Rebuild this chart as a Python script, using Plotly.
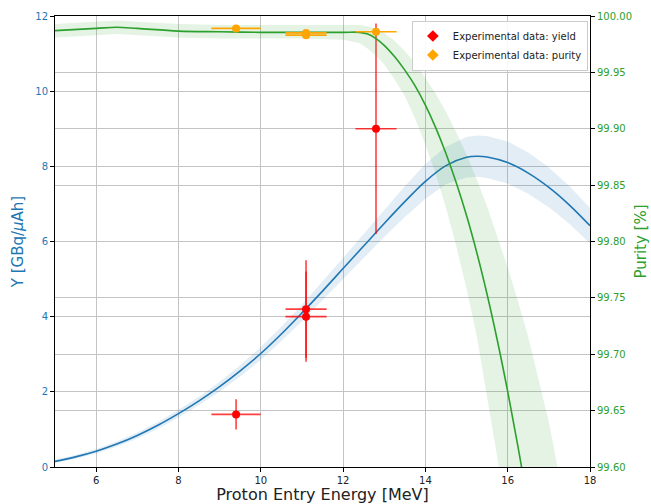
import plotly.graph_objects as go

# ---------------- data ----------------
# Yield model curve (left axis)
yield_x = [5, 5.5, 6, 6.5, 7, 7.5, 8, 8.5, 9, 9.5, 10, 10.5, 11, 11.5, 12, 12.5,
           13, 13.5, 14, 14.5, 15, 15.25, 15.5, 16, 16.5, 17, 17.5, 18]
yield_y = [0.15, 0.27, 0.42, 0.61, 0.84, 1.11, 1.42, 1.76, 2.14, 2.56, 3.02, 3.54,
           4.10, 4.68, 5.28, 5.88, 6.48, 7.06, 7.60, 8.02, 8.24, 8.27, 8.25, 8.10,
           7.82, 7.44, 6.97, 6.42]
yield_unc = [0.04, 0.05, 0.06, 0.07, 0.08, 0.09, 0.1, 0.11, 0.13, 0.15, 0.17, 0.19,
             0.22, 0.25, 0.28, 0.32, 0.36, 0.41, 0.46, 0.5, 0.54, 0.55, 0.56, 0.56,
             0.55, 0.53, 0.5, 0.47]

# Purity model curve (right axis)
pur_x = [5, 6, 6.5, 7, 8, 9, 10, 11, 12, 12.4, 12.6, 12.8, 13.0, 13.25, 13.5, 13.75,
         14.0, 14.25, 14.5, 14.75, 15.0, 15.25, 15.5, 15.75, 16.0, 16.25, 16.5, 17.0,
         17.5, 18.0]
pur_y = [99.987, 99.989, 99.990, 99.989, 99.9866, 99.986, 99.9855, 99.9855, 99.9855,
         99.9855, 99.984, 99.980, 99.974, 99.964, 99.952, 99.938, 99.921, 99.901,
         99.878, 99.852, 99.823, 99.790, 99.753, 99.712, 99.667, 99.618, 99.565,
         99.45, 99.32, 99.18]
pur_lo = [99.981, 99.983, 99.984, 99.983, 99.981, 99.980, 99.980, 99.980, 99.979,
          99.976, 99.971, 99.965, 99.957, 99.944, 99.929, 99.909, 99.886, 99.860,
          99.830, 99.796, 99.758, 99.716, 99.664, 99.608, 99.549, 99.487, 99.42,
          99.28, 99.12, 98.95]
pur_hi = [99.993, 99.995, 99.996, 99.995, 99.993, 99.992, 99.992, 99.992, 99.992,
          99.992, 99.991, 99.989, 99.985, 99.978, 99.969, 99.958, 99.945, 99.931,
          99.915, 99.897, 99.877, 99.855, 99.831, 99.805, 99.777, 99.747, 99.715,
          99.64, 99.55, 99.45]

# Experimental data
exp_yield_x = [9.4, 11.1, 11.1, 12.8]
exp_yield_xerr = [0.6, 0.5, 0.5, 0.5]
exp_yield_y = [1.4, 4.2, 4.0, 9.0]
exp_yield_yerr = [0.4, 1.3, 1.2, 2.8]

exp_pur_x = [9.4, 11.1, 11.1, 12.8]
exp_pur_xerr = [0.6, 0.5, 0.5, 0.5]
exp_pur_y = [99.989, 99.985, 99.983, 99.986]

x_ticks = [6, 8, 10, 12, 14, 16, 18]
y_ticks = [0, 2, 4, 6, 8, 10, 12]
y2_ticks = [99.60, 99.65, 99.70, 99.75, 99.80, 99.85, 99.90, 99.95, 100.00]

BLUE = "#1f77b4"
GREEN = "#2ca02c"
FONT = "DejaVu Sans"
GRID = "#c4c4c4"

fig = go.Figure()

# yield band + line
yu = [a + b for a, b in zip(yield_y, yield_unc)]
yl = [a - b for a, b in zip(yield_y, yield_unc)]
fig.add_trace(go.Scatter(x=yield_x + yield_x[::-1], y=yu + yl[::-1], fill="toself",
                         fillcolor="rgba(31,119,180,0.13)", line=dict(width=0),
                         hoverinfo="skip", showlegend=False, yaxis="y"))
fig.add_trace(go.Scatter(x=yield_x, y=yield_y, mode="lines", line=dict(color=BLUE, width=1.6),
                         line_shape="spline", showlegend=False, yaxis="y"))

# yield experimental
fig.add_trace(go.Scatter(x=exp_yield_x, y=exp_yield_y, mode="markers",
                         marker=dict(color="red", size=8),
                         error_x=dict(type="data", array=exp_yield_xerr, color="rgba(255,0,0,0.75)",
                                      thickness=1.6, width=0),
                         error_y=dict(type="data", array=exp_yield_yerr, color="rgba(255,0,0,0.75)",
                                      thickness=1.6, width=0),
                         showlegend=False, yaxis="y"))

# purity band + line
fig.add_trace(go.Scatter(x=pur_x + pur_x[::-1], y=pur_hi + pur_lo[::-1], fill="toself",
                         fillcolor="rgba(44,160,44,0.13)", line=dict(width=0),
                         hoverinfo="skip", showlegend=False, yaxis="y2"))
fig.add_trace(go.Scatter(x=pur_x, y=pur_y, mode="lines", line=dict(color=GREEN, width=1.6),
                         line_shape="spline", showlegend=False, yaxis="y2"))

# purity experimental
fig.add_trace(go.Scatter(x=exp_pur_x, y=exp_pur_y, mode="markers",
                         marker=dict(color="orange", size=8),
                         error_x=dict(type="data", array=exp_pur_xerr, color="orange",
                                      thickness=1.6, width=0),
                         showlegend=False, yaxis="y2"))

# legend entries
fig.add_trace(go.Scatter(x=[None], y=[None], mode="markers", name="Experimental data: yield",
                         marker=dict(color="red", size=9, symbol="diamond")))
fig.add_trace(go.Scatter(x=[None], y=[None], mode="markers", name="Experimental data: purity",
                         marker=dict(color="orange", size=9, symbol="diamond")))

fig.update_layout(
    width=651, height=504,
    margin=dict(l=55, r=61, t=16, b=37),
    paper_bgcolor="white", plot_bgcolor="white",
    font=dict(family=FONT, size=10, color="#222"),
    showlegend=True,
    legend=dict(x=0.996, y=0.99, xanchor="right", yanchor="top",
                bgcolor="rgba(255,255,255,0.9)", bordercolor="#cccccc", borderwidth=1,
                font=dict(family=FONT, size=10, color="#222"),
                itemwidth=30, tracegroupgap=0),
    xaxis=dict(range=[5, 18], tickvals=x_ticks, showgrid=True, gridcolor=GRID, gridwidth=1,
               showline=True, linecolor="black", linewidth=1, mirror=True,
               ticks="outside", ticklen=4, tickcolor="black",
               tickfont=dict(family=FONT, size=10, color="#222"),
               title=dict(text="Proton Entry Energy [MeV]", font=dict(family=FONT, size=16, color="#222"),
                          standoff=4),
               zeroline=False, automargin=False),
    yaxis=dict(range=[0, 12], tickvals=y_ticks, showgrid=True, gridcolor=GRID, gridwidth=1,
               showline=True, linecolor="black", linewidth=1,
               ticks="outside", ticklen=4, tickcolor="black",
               tickfont=dict(family=FONT, size=10, color=BLUE),
               title=dict(text="Y [GBq/<i>μ</i>Ah]", font=dict(family=FONT, size=15, color=BLUE),
                          standoff=8),
               zeroline=False, automargin=False),
    yaxis2=dict(range=[99.60, 100.00], tickvals=y2_ticks, tickformat=".2f", overlaying="y", side="right",
                showgrid=True, gridcolor=GRID, gridwidth=1,
                showline=True, linecolor="black", linewidth=1,
                ticks="outside", ticklen=4, tickcolor="black",
                tickfont=dict(family=FONT, size=10, color=GREEN),
                title=dict(text="Purity [%]", font=dict(family=FONT, size=15, color=GREEN),
                           standoff=4),
                zeroline=False, automargin=False),
)

fig.write_html("out.html")
